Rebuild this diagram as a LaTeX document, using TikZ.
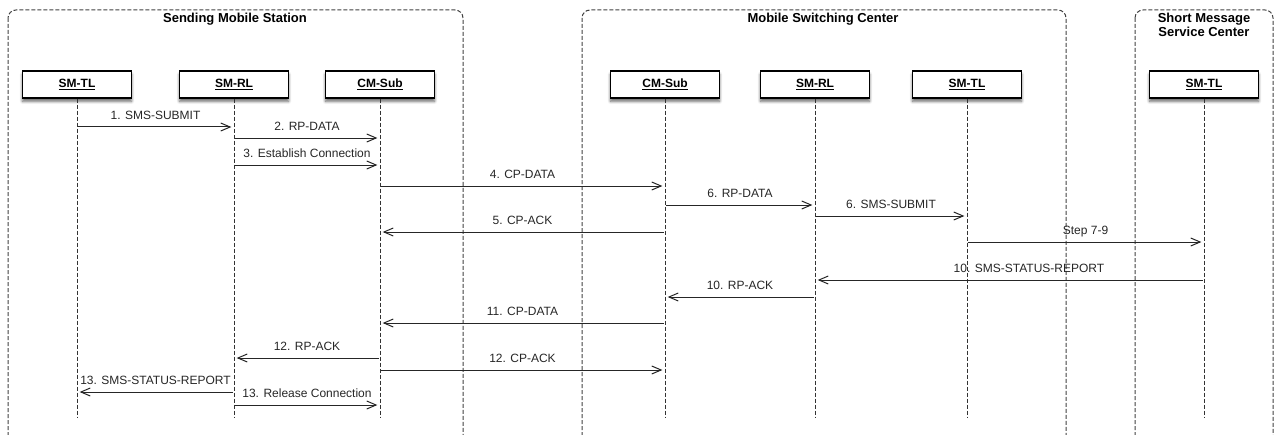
\documentclass[tikz,border=0pt]{standalone}
\usepackage{fontspec}
\setmainfont{Liberation Sans}
\usepackage{tikz}
\usetikzlibrary{arrows.meta, shadows.blur}
\tikzstyle{group} = [draw=black!75,line width=0.75pt,dash pattern=on 3pt off 1.5pt,rounded corners=6pt]
\tikzstyle{title} = [font=\fontsize{9.75}{10.5}\selectfont\bfseries,anchor=base,align=center]
\tikzstyle{lifebox} = [draw,line width=0.9pt,fill=white,minimum width=81.75pt,minimum height=20.25pt,
  font=\fontsize{9}{11}\selectfont\bfseries,blur shadow={shadow xshift=0pt,shadow yshift=-2.5pt,shadow blur steps=6,shadow opacity=60}]
\tikzstyle{life} = [draw=black!80,line width=0.75pt,dash pattern=on 3pt off 1.5pt]
\tikzstyle{msg} = [draw=black!85,line width=0.75pt,-{Straight Barb[length=7pt,width=6pt]},shorten >=2pt,shorten <=1pt]
\tikzstyle{lbl} = [above=2pt,text depth=0pt,font=\fontsize{9}{11}\selectfont,text=black!85]

\begin{document}
\begin{tikzpicture}[x=0.75pt,y=-0.75pt]
\useasboundingbox (0,0) rectangle (1275,435);
\clip (0,0) rectangle (1275,435);
% groups
\draw[group] (8,10) rectangle (463,445);
\draw[group] (582,10) rectangle (1066,445);
\draw[group] (1135,10) rectangle (1273,445);
\node[title] (ttlms) at (235,23) {Sending Mobile Station};
\node[title] (ttlmsc) at (823,23) {Mobile Switching Center};
\node[title] (ttlsmsc) at (1204,37) {Short Message\\Service Center};
% entities
\node[lifebox] (mstl) at (77,84.5) {\underline{SM-TL}};
\node[lifebox] (msrl) at (234,84.5) {\underline{SM-RL}};
\node[lifebox] (mscm) at (380,84.5) {\underline{CM-Sub}};
\node[lifebox] (msccm) at (665,84.5) {\underline{CM-Sub}};
\node[lifebox] (mscrl) at (815,84.5) {\underline{SM-RL}};
\node[lifebox] (msctl) at (967,84.5) {\underline{SM-TL}};
\node[lifebox] (smsctl) at (1204,84.5) {\underline{SM-TL}};
\foreach \n in {mstl,msrl,mscm,msccm,mscrl,msctl,smsctl}
  \draw[life] (\n.south) -- (\n.south |- 0,418);
% messages
\draw[msg] (mstl |- 0,127) -- node[lbl]{1. SMS-SUBMIT} (msrl |- 0,127);
\draw[msg] (msrl |- 0,138) -- node[lbl]{2. RP-DATA} (mscm |- 0,138);
\draw[msg] (msrl |- 0,165) -- node[lbl]{3. Establish Connection} (mscm |- 0,165);
\draw[msg] (mscm |- 0,186) -- node[lbl]{4. CP-DATA} (msccm |- 0,186);
\draw[msg] (msccm |- 0,205) -- node[lbl]{6. RP-DATA} (mscrl |- 0,205);
\draw[msg] (mscrl |- 0,216) -- node[lbl]{6. SMS-SUBMIT} (msctl |- 0,216);
\draw[msg] (msccm |- 0,232) -- node[lbl]{5. CP-ACK} (mscm |- 0,232);
\draw[msg] (msctl |- 0,242) -- node[lbl]{Step 7-9} (smsctl |- 0,242);
\draw[msg] (smsctl |- 0,280) -- node[lbl,pos=0.45]{10. SMS-STATUS-REPORT} (mscrl |- 0,280);
\draw[msg] (mscrl |- 0,297) -- node[lbl]{10. RP-ACK} (msccm |- 0,297);
\draw[msg] (msccm |- 0,323) -- node[lbl]{11. CP-DATA} (mscm |- 0,323);
\draw[msg] (mscm |- 0,358) -- node[lbl]{12. RP-ACK} (msrl |- 0,358);
\draw[msg] (mscm |- 0,370) -- node[lbl]{12. CP-ACK} (msccm |- 0,370);
\draw[msg] (msrl |- 0,392) -- node[lbl]{13. SMS-STATUS-REPORT} (mstl |- 0,392);
\draw[msg] (msrl |- 0,405) -- node[lbl]{13. Release Connection} (mscm |- 0,405);
\end{tikzpicture}
\end{document}
